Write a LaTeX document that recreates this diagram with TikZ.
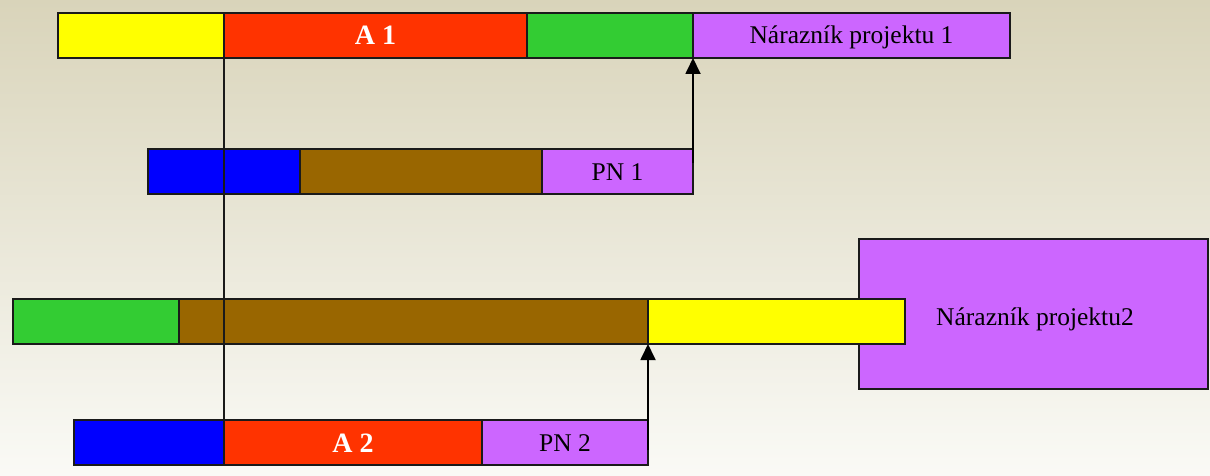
\documentclass[tikz,border=0pt]{standalone}
\usepackage{fontspec}
\setmainfont{Liberation Serif}
\usetikzlibrary{arrows.meta}
\definecolor{cyel}{HTML}{FFFF00}
\definecolor{cred}{HTML}{FF3300}
\definecolor{cgrn}{HTML}{33CC33}
\definecolor{cpur}{HTML}{CC66FF}
\definecolor{cblu}{HTML}{0000FF}
\definecolor{cbrn}{HTML}{996600}
\definecolor{bgtop}{HTML}{D9D4BA}
\definecolor{bgbot}{HTML}{FAFAF6}
\definecolor{edge}{HTML}{1A1A1A}
\tikzset{
  bar/.style={draw=edge, line width=1.6pt, minimum height=45pt, inner sep=0pt, outer sep=0pt, anchor=north west},
  lbl/.style={font=\fontsize{25.5}{27}\selectfont, text height=17pt, text depth=0pt},
  blbl/.style={font=\bfseries\fontsize{28}{30}\selectfont, text=white, text height=19pt, text depth=0pt},
  link/.style={draw=edge, line width=1.3pt},
  arr/.style={draw=black, line width=1.8pt, -{Triangle[length=16pt,width=15pt]}}
}
\begin{document}
\begin{tikzpicture}[x=1pt,y=-1pt]
\shade[top color=bgtop, bottom color=bgbot] (0,0) rectangle (1210,476);
\useasboundingbox (0,0) rectangle (1210,476);
% row 1
\node[bar, fill=cyel, minimum width=166pt] (y1) at (58,13) {};
\node[bar, fill=cred, minimum width=303pt, blbl] (r1) at (224,13) {A 1};
\node[bar, fill=cgrn, minimum width=166pt] (g1) at (527,13) {};
\node[bar, fill=cpur, minimum width=317pt, lbl] (p1) at (693,13) {Nárazník projektu 1};
% row 2
\node[bar, fill=cblu, minimum width=152pt] (b2) at (148,149) {};
\node[bar, fill=cbrn, minimum width=242pt] (w2) at (300,149) {};
\node[bar, fill=cpur, minimum width=151pt, lbl] (p2) at (542,149) {PN 1};
% big buffer box
\node[draw=edge, line width=1.6pt, fill=cpur, minimum width=349pt, minimum height=150pt, inner sep=0pt, outer sep=0pt, anchor=north west] (big) at (859,239) {};
\node[lbl, anchor=center] (bigt) at (1035,316.5) {Nárazník projektu2};
% row 3
\node[bar, fill=cgrn, minimum width=166pt] (g3) at (13,299) {};
\node[bar, fill=cbrn, minimum width=469pt] (w3) at (179,299) {};
\node[bar, fill=cyel, minimum width=257pt] (y3) at (648,299) {};
% row 4
\node[bar, fill=cblu, minimum width=150pt] (b4) at (74,420) {};
\node[bar, fill=cred, minimum width=258pt, blbl] (r4) at (224,420) {A 2};
\node[bar, fill=cpur, minimum width=166pt, lbl] (p4) at (482,420) {PN 2};
% connectors
\draw[link] (r1.south west) -- (r4.north west);
\draw[arr] ([yshift=-14pt]p2.north east) -- (g1.south east);
\draw[arr] ([yshift=-30pt]p4.north east) -- (w3.south east);
\end{tikzpicture}
\end{document}
